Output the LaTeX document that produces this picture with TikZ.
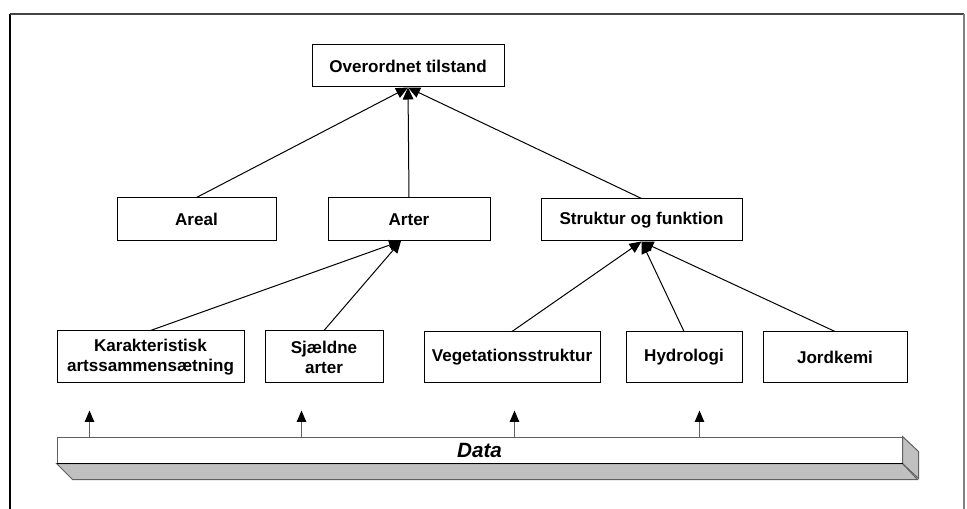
\documentclass[tikz,border=0pt]{standalone}
\usepackage{fontspec}
\setmainfont{Liberation Sans}
\usetikzlibrary{arrows.meta}
\definecolor{faceshade}{HTML}{C0C0C0}
\definecolor{edgegray}{HTML}{606060}
\begin{document}
\begin{tikzpicture}[x=0.75pt,y=-0.75pt,
  box/.style={draw=black, line width=0.75pt, fill=white, inner sep=0pt,
    align=center, font=\fontsize{12.8}{15}\selectfont\bfseries},
  link/.style={draw=black, line width=0.75pt, -{Triangle[length=9pt,width=8pt]}},
  feed/.style={draw=edgegray, line width=1pt, -{Triangle[length=8.5pt,width=7pt,color=black]}},
  face/.style={fill=faceshade, draw=edgegray, line width=0.75pt, line join=miter}]
\useasboundingbox (0,0) rectangle (967,509);

% outer frame (open at the bottom)
\draw[black, line width=0.9pt] (10,509) -- (10,14);
\draw[edgegray!70!black, line width=0.9pt] (10,14) -- (964,14);
\draw[gray, line width=0.9pt] (964,14) -- (964,509);

% top level
\node[box, minimum width=144pt, minimum height=31.5pt] (top) at (408,66) {Overordnet tilstand};

% second level
\node[box, minimum width=119.25pt, minimum height=32.25pt] (areal) at (196.5,219.5) {Areal};
\node[box, minimum width=121.5pt, minimum height=32.25pt] (arter) at (409,219.5) {Arter};
\node[box, minimum width=150.75pt, minimum height=31.5pt] (struktur) at (641.5,220) {Struktur og funktion};

% third level
\node[box, minimum width=140.25pt, minimum height=39pt] (karak) at (150.5,357) {Karakteristisk\\artssammensætning};
\node[box, minimum width=88.5pt, minimum height=39pt] (sjaeld) at (324,357) {Sjældne\\arter};
\node[box, minimum width=132pt, minimum height=38.25pt] (veget) at (512,357.5) {Vegetationsstruktur};
\node[box, minimum width=87pt, minimum height=38.25pt] (hydro) at (684,357.5) {Hydrologi};
\node[box, minimum width=108pt, minimum height=38.25pt] (jord) at (835,357.5) {Jordkemi};

% arrow meeting points
\coordinate (arterin) at (401,241);

% connectors
\draw[link] (areal.north) -- (top.south);
\draw[link] (arter.north) -- (top.south);
\draw[link] (struktur.north) -- (top.south);
\draw[link] (karak.north) -- (arterin);
\draw[link] (sjaeld.north) -- (arterin);
\draw[link] (veget.north) -- (struktur.south);
\draw[link] (hydro.north) -- (struktur.south);
\draw[link] (jord.north) -- (struktur.south);

% data bar with its bevelled faces
\node[draw=edgegray, line width=0.75pt, fill=white, inner sep=0pt,
  minimum width=633.75pt, minimum height=19.5pt,
  font=\fontsize{15.5}{18}\selectfont\bfseries\itshape] (data) at (479.5,450) {Data};
\path[face] (data.south west) -- ++(16,16) -- ++(845,0) -- (data.south east) -- cycle;
\path[face] (data.north east) -- ++(16,15) -- ++(0,27) -- (data.south east) -- cycle;
\draw[black, line width=0.9pt] (data.south west) -- (data.south east);

% data feeds
\path (data.north west) ++(33,0) coordinate (f1) ++(0,-26) coordinate (g1);
\path (data.north west) ++(245,0) coordinate (f2) ++(0,-26) coordinate (g2);
\path (data.north west) ++(458,0) coordinate (f3) ++(0,-26) coordinate (g3);
\path (data.north west) ++(643,0) coordinate (f4) ++(0,-26) coordinate (g4);
\draw[feed] (f1) -- (g1);
\draw[feed] (f2) -- (g2);
\draw[feed] (f3) -- (g3);
\draw[feed] (f4) -- (g4);
\end{tikzpicture}
\end{document}
